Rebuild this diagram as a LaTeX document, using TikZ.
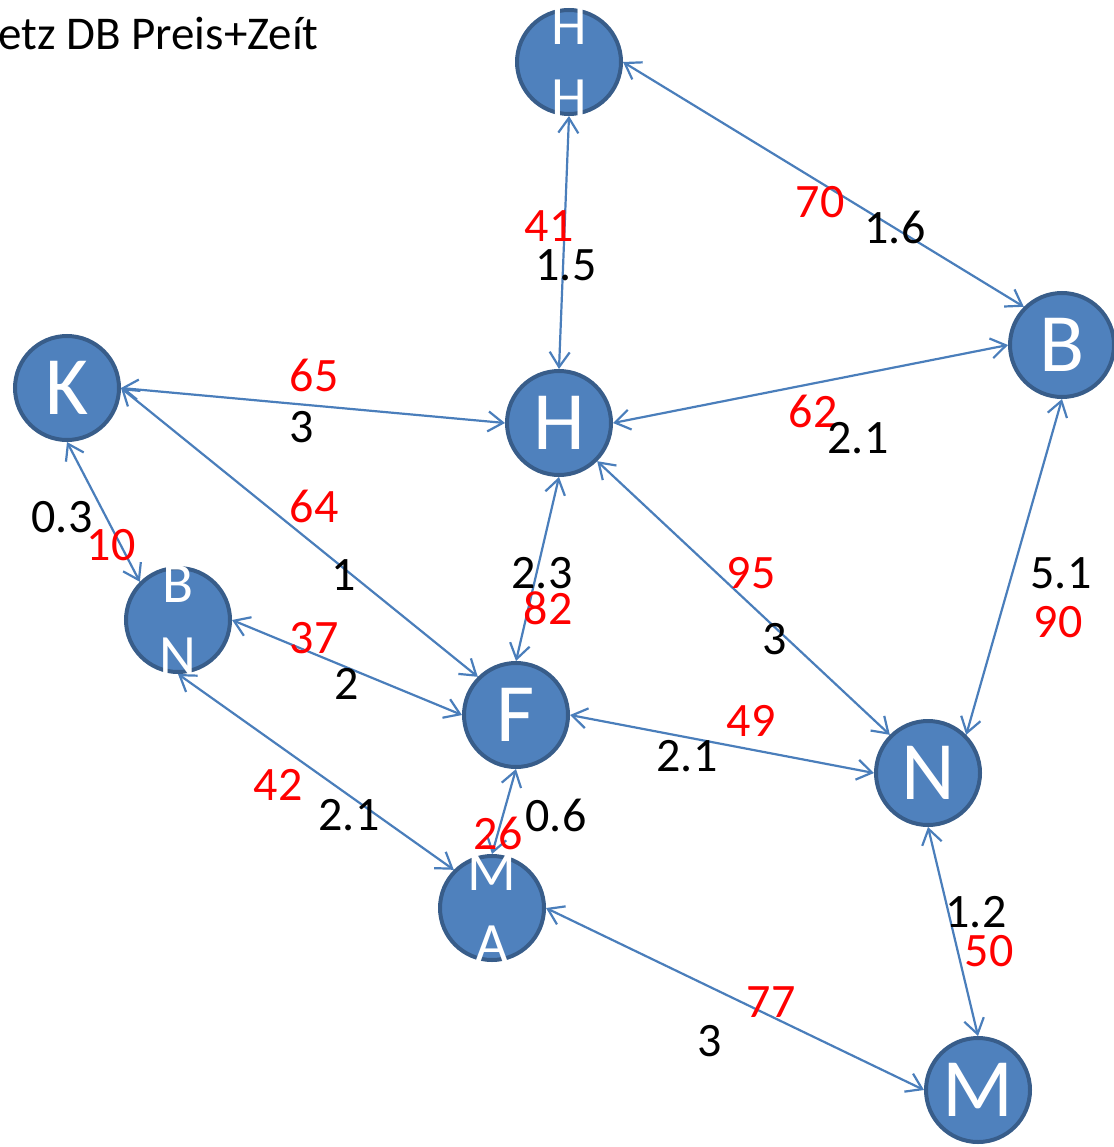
\documentclass[tikz,border=0pt]{standalone}
\usepackage{fontspec}
\setmainfont{Carlito}
\usepackage{tikz}
\usetikzlibrary{arrows.meta}

\definecolor{townfill}{HTML}{4F81BD}
\definecolor{townline}{HTML}{385D8A}
\definecolor{linkcol}{HTML}{4A7EBB}

\tikzset{
	town/.style={circle,fill=townfill,draw=townline,line width=4pt,minimum size=104pt,inner sep=0pt,
		text=white,font=\fontsize{83}{96}\selectfont},
	twoline/.style={align=center,inner sep=0pt,text=white,font=\fontsize{57}{72}\selectfont},
	link/.style={<->,draw=linkcol,line width=2.2pt},
	price/.style={text=red,inner sep=0pt,font=\fontsize{48}{54}\selectfont},
	time/.style={text=black,inner sep=0pt,font=\fontsize{48}{54}\selectfont}
}

\begin{document}
\begin{tikzpicture}[x=1pt,y=-1pt,>={Straight Barb[length=15pt,width=20pt]}]
	% fixed frame of the picture
	\useasboundingbox (0,0) rectangle (1113,1147);
	% title, cut at the left border
	\node[anchor=base west,inner sep=0pt,font=\fontsize{47}{54}\selectfont] (title) at (-2,50) {etz DB Preis+Zeít};
	% the towns
	\node[town,label={[twoline]center:H\\H}] (HH) at (569,62) {};
	\node[town] (B) at (1062,345) {B};
	\node[town] (K) at (67,388) {K};
	\node[town] (H) at (559,423) {H};
	\node[town,label={[twoline]center:B\\N}] (BN) at (178,620) {};
	\node[town] (F) at (516,715) {F};
	\node[town] (N) at (928,773) {N};
	\node[town,label={[twoline]center:M\\A}] (MA) at (492,908) {};
	\node[town] (M) at (978,1090) {M};
	% the connections, from anchor to anchor
	\foreach \a/\b in {HH.south/H.north, HH.east/B.north west, K.east/H.west, H.east/B.west,
		K.south/BN.north west, K.east/F.north west, H.south/F.north, H.south east/N.north west,
		B.south/N.north east, BN.east/F.west, BN.south/MA.north west, F.east/N.west,
		F.south/MA.north, MA.east/M.west, N.south/M.north} {
		\draw[link] (\a) -- (\b);
	}
	% prices (red)
	\foreach \n/\x/\y/\t in {HHH/549/226/41, HHB/820/202/70, KH/314/375/65, HB/813/411/62,
		KBN/111/545/10, KF/314/506/64, HF/548/608/82, HN/751/573/95, BN/1058/622/90,
		BNF/314/638/37, FN/751/721/49, BNMA/278/785/42, FMA/498/833/26, NM/989/951/50,
		MAM/771/1002/77} {
		\node[price] (p\n) at (\x,\y) {\t};
	}
	% travel times (black)
	\foreach \n/\x/\y/\t in {HHH/566/265/1.5, HHB/895/227/1.6, KH/302/427/3, HB/858/438/2.1,
		KBN/62/517/0.3, KF/344/575/1, HF/542/573/2.3, HN/775/639/3, BN/1061/573/5.1,
		BNF/347/684/2, FN/687/756/2.1, BNMA/349/815/2.1, FMA/556/815/0.6, NM/976/912/1.2,
		MAM/710/1041/3} {
		\node[time] (t\n) at (\x,\y) {\t};
	}
\end{tikzpicture}
\end{document}
